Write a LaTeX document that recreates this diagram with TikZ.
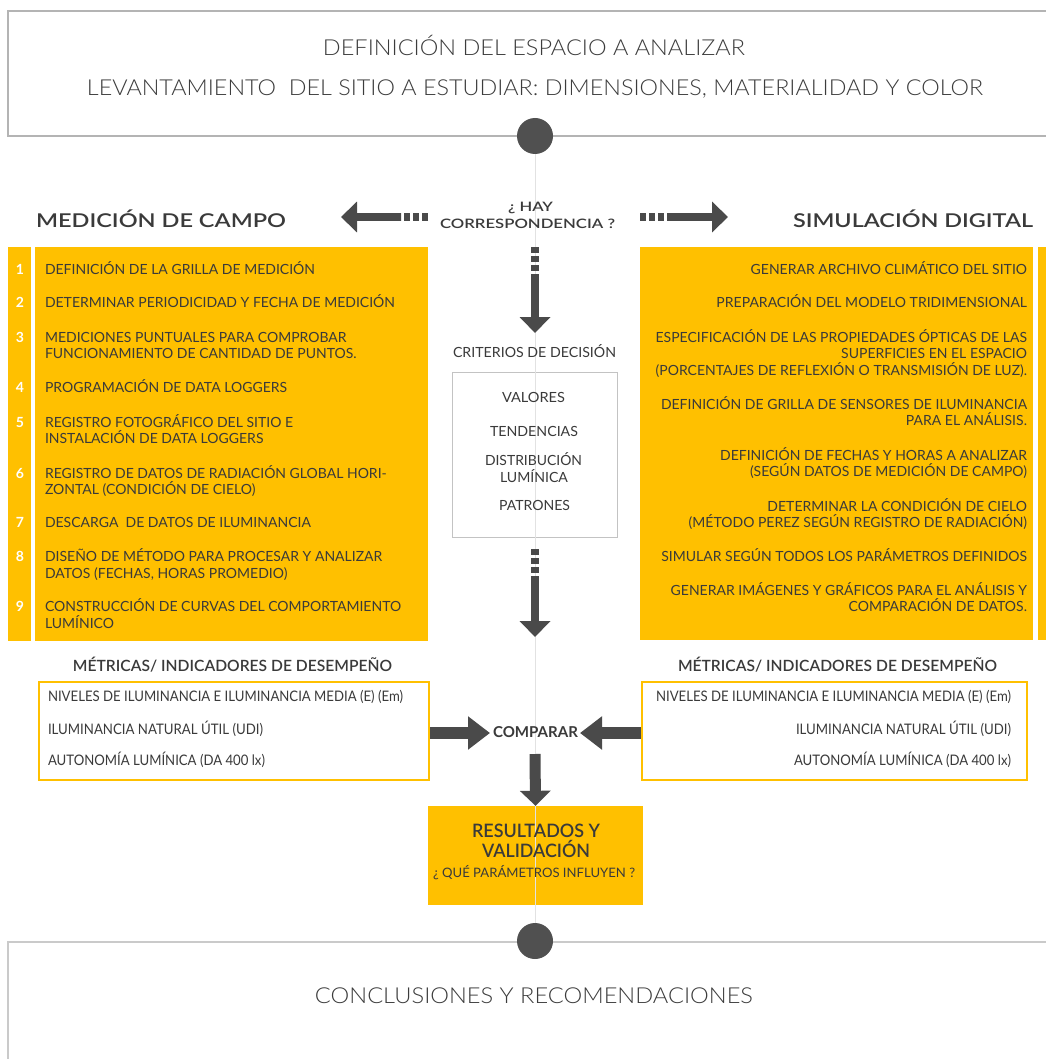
\documentclass[tikz,border=0pt]{standalone}
\usepackage{fontspec}
\usepackage{graphicx}
\usetikzlibrary{arrows.meta}
\setmainfont{Lato}
\IfFontExistsTF{Lato Light}{\newfontfamily\lightf{Lato Light}}{\newfontfamily\lightf{Lato}}
\IfFontExistsTF{Lato Semibold}{\newfontfamily\semif{Lato Semibold}}{\newcommand\semif{\bfseries}}
\newcommand\fitw[2]{\resizebox{#1pt}{\height}{#2}}
\definecolor{yel}{HTML}{FFC000}
\definecolor{ink}{HTML}{3A3A3A}
\definecolor{arr}{HTML}{4A4A4A}
\definecolor{dotc}{HTML}{505050}
\definecolor{frame}{HTML}{B4B4B4}
\definecolor{hdtxt}{HTML}{3C3C3C}
\definecolor{cline}{HTML}{E2E2E2}
\tikzset{
  txt/.style={inner sep=0pt, outer sep=0pt, text=ink},
  itemL/.style={txt, anchor=base west, font=\fontsize{14}{16}\selectfont},
  itemR/.style={txt, anchor=base east, font=\fontsize{14}{16}\selectfont},
  num/.style={txt, anchor=base, text=white, font=\bfseries\fontsize{14}{16}\selectfont},
  hdr/.style={txt, anchor=base, text=hdtxt, font=\lightf\fontsize{22}{24}\selectfont},
  ttl/.style={txt, font=\semif\fontsize{19}{21}\selectfont},
  qst/.style={txt, anchor=base, font=\semif\fontsize{13}{16}\selectfont},
  crit/.style={txt, anchor=base, font=\fontsize{14}{16}\selectfont},
  met/.style={txt, font=\fontsize{14.5}{16}\selectfont},
  mettl/.style={txt, anchor=base, font=\semif\fontsize{15.5}{17}\selectfont},
  shaft/.style={draw=arr, line width=8pt},
  dashshaft/.style={draw=arr, line width=8pt, dash pattern=on 6pt off 3pt},
  bigtip/.style={-{Triangle[length=16pt,width=30pt]}},
  cshaft/.style={draw=arr, line width=12pt},
  ctip/.style={-{Triangle[length=22pt,width=32pt]}},
  dshaft/.style={draw=arr, line width=11pt},
  dottie/.style={circle, fill=dotc, minimum size=36pt, inner sep=0pt},
  yelbox/.style={fill=yel, inner sep=0pt},
  metbox/.style={draw=yel, line width=2.5pt, inner sep=0pt},
}
\begin{document}
\begin{tikzpicture}[x=1pt,y=-1pt]
\useasboundingbox (0,0) rectangle (1045,1059);
\fill[white] (0,0) rectangle (1045,1059);
% top and bottom frames
\draw[frame, line width=1.5pt] (8,11) rectangle (1060,136);
\draw[frame!70, line width=2pt] (1060,942) -- (8,942) -- (8,1070);
% yellow panels
\fill[yel] (8,247) rectangle (31,641);
\node[yelbox, minimum width=393pt, minimum height=394pt] (pL) at (231.5,444) {};
\node[yelbox, minimum width=393pt, minimum height=393pt] (pR) at (836.5,443.5) {};
\fill[yel] (1038,247) rectangle (1060,640);
% criteria box
\node[draw=frame!80, line width=1pt, minimum width=165pt, minimum height=165pt, inner sep=0pt] (cb) at (534.5,454.5) {};
% metrics boxes
\node[metbox, minimum width=390pt, minimum height=98pt] (mL) at (234,731) {};
\node[metbox, minimum width=385pt, minimum height=98pt] (mR) at (834.5,731) {};
% results box
\node[yelbox, minimum width=215pt, minimum height=99pt] (res) at (535.5,855.5) {};
% circles
\node[dottie] (c1) at (535,136) {};
\node[dottie] (c2) at (535,941) {};
\draw[cline, line width=0.8pt] (c1.south) -- (c2.north);
% header
\node[hdr] (h1) at (534,56) {\fitw{422}{DEFINICIÓN DEL ESPACIO A ANALIZAR}};
\node[hdr] (h2) at (535,96) {\fitw{896}{LEVANTAMIENTO\ \ DEL SITIO A ESTUDIAR: DIMENSIONES, MATERIALIDAD Y COLOR}};
% question
\node[qst] (q1) at (530.5,212) {\fitw{45}{¿ HAY}};
\node[qst] (q2) at (527.5,229) {\fitw{175}{CORRESPONDENCIA ?}};
% titles
\node[ttl, anchor=base west] (mc) at (36,228) {\fitw{250}{MEDICIÓN DE CAMPO}};
\node[ttl, anchor=base east] (sd) at (1033,228) {\fitw{240}{SIMULACIÓN DIGITAL}};
% horizontal arrows
\coordinate (la) at (428,217); \coordinate (lb) at (401,217); \coordinate (lt) at (341,217);
\draw[dashshaft] (la) -- (lb);
\draw[shaft, bigtip] (lb) -- (lt);
\coordinate (ra) at (640,217); \coordinate (rb) at (667,217); \coordinate (rt) at (728,217);
\draw[dashshaft] (ra) -- (rb);
\draw[shaft, bigtip] (rb) -- (rt);
% vertical arrow 1
\coordinate (d1a) at (535,247); \coordinate (d1b) at (535,274); \coordinate (d1t) at (535,333);
\draw[dashshaft] (d1a) -- (d1b);
\draw[shaft, bigtip] (d1b) -- (d1t);
% criteria
\node[crit] (ct) at (534.5,357) {\fitw{163}{CRITERIOS DE DECISIÓN}};
\node[crit] (k1) at (533.5,402) {\fitw{63}{VALORES}};
\node[crit] (k2) at (534,436) {\fitw{88}{TENDENCIAS}};
\node[crit] (k3) at (533.5,465) {\fitw{97}{DISTRIBUCIÓN}};
\node[crit] (k4) at (534,482) {\fitw{68}{LUMÍNICA}};
\node[crit] (k5) at (534.5,510) {\fitw{71}{PATRONES}};
% vertical arrow 2
\coordinate (d2a) at (535,549); \coordinate (d2b) at (535,576); \coordinate (d2t) at (535,637);
\draw[dashshaft] (d2a) -- (d2b);
\draw[shaft, bigtip] (d2b) -- (d2t);
% left items
\node[num] (n1) at (20,274) {1};
\node[num] (n2) at (20,307) {2};
\node[num] (n3) at (20,342) {3};
\node[num] (n4) at (20,392) {4};
\node[num] (n5) at (20,427) {5};
\node[num] (n6) at (20,478) {6};
\node[num] (n7) at (20,527) {7};
\node[num] (n8) at (20,561) {8};
\node[num] (n9) at (20,611) {9};
\node[itemL] (l1) at (45,274) {DEFINICIÓN DE LA GRILLA DE MEDICIÓN};
\node[itemL] (l2) at (45,307) {DETERMINAR PERIODICIDAD Y FECHA DE MEDICIÓN};
\node[itemL] (l3a) at (45,342) {MEDICIONES PUNTUALES PARA COMPROBAR};
\node[itemL] (l3b) at (45,358) {FUNCIONAMIENTO DE CANTIDAD DE PUNTOS.};
\node[itemL] (l4) at (45,392) {PROGRAMACIÓN DE DATA LOGGERS};
\node[itemL] (l5a) at (45,427) {REGISTRO FOTOGRÁFICO DEL SITIO E};
\node[itemL] (l5b) at (45,443) {INSTALACIÓN DE DATA LOGGERS};
\node[itemL] (l6a) at (45,478) {REGISTRO DE DATOS DE RADIACIÓN GLOBAL HORI-};
\node[itemL] (l6b) at (45,494) {ZONTAL (CONDICIÓN DE CIELO)};
\node[itemL] (l7) at (45,527) {DESCARGA\ \ DE DATOS DE ILUMINANCIA};
\node[itemL] (l8a) at (45,561) {DISEÑO DE MÉTODO PARA PROCESAR Y ANALIZAR};
\node[itemL] (l8b) at (45,578) {DATOS (FECHAS, HORAS PROMEDIO)};
\node[itemL] (l9a) at (45,611) {CONSTRUCCIÓN DE CURVAS DEL COMPORTAMIENTO};
\node[itemL] (l9b) at (45,628) {LUMÍNICO};
% right items
\node[itemR] (r1) at (1027,274) {GENERAR ARCHIVO CLIMÁTICO DEL SITIO};
\node[itemR] (r2) at (1027,307) {PREPARACIÓN DEL MODELO TRIDIMENSIONAL};
\node[itemR] (r3a) at (1027,342) {ESPECIFICACIÓN DE LAS PROPIEDADES ÓPTICAS DE LAS};
\node[itemR] (r3b) at (1027,358) {SUPERFICIES EN EL ESPACIO};
\node[itemR] (r3c) at (1027,375) {(PORCENTAJES DE REFLEXIÓN O TRANSMISIÓN DE LUZ).};
\node[itemR] (r4a) at (1027,409) {DEFINICIÓN DE GRILLA DE SENSORES DE ILUMINANCIA};
\node[itemR] (r4b) at (1027,425) {PARA EL ANÁLISIS.};
\node[itemR] (r5a) at (1027,460) {DEFINICIÓN DE FECHAS Y HORAS A ANALIZAR};
\node[itemR] (r5b) at (1027,476) {(SEGÚN DATOS DE MEDICIÓN DE CAMPO)};
\node[itemR] (r6a) at (1027,511) {DETERMINAR LA CONDICIÓN DE CIELO};
\node[itemR] (r6b) at (1027,527) {(MÉTODO PEREZ SEGÚN REGISTRO DE RADIACIÓN)};
\node[itemR] (r7) at (1027,561) {SIMULAR SEGÚN TODOS LOS PARÁMETROS DEFINIDOS};
\node[itemR] (r8a) at (1027,595) {GENERAR IMÁGENES Y GRÁFICOS PARA EL ANÁLISIS Y};
\node[itemR] (r8b) at (1027,611) {COMPARACIÓN DE DATOS.};
% metrics
\node[mettl] (mtL) at (232.5,671) {\fitw{319}{MÉTRICAS/ INDICADORES DE DESEMPEÑO}};
\node[mettl] (mtR) at (837.5,671) {\fitw{319}{MÉTRICAS/ INDICADORES DE DESEMPEÑO}};
\node[met, anchor=base west] (ma1) at (48,701) {\fitw{355}{NIVELES DE ILUMINANCIA E ILUMINANCIA MEDIA (E) (Em)}};
\node[met, anchor=base west] (ma2) at (48,734) {\fitw{215}{ILUMINANCIA NATURAL ÚTIL (UDI)}};
\node[met, anchor=base west] (ma3) at (48,765) {\fitw{217}{AUTONOMÍA LUMÍNICA (DA 400 lx)}};
\node[met, anchor=base east] (mb1) at (1011,701) {\fitw{355}{NIVELES DE ILUMINANCIA E ILUMINANCIA MEDIA (E) (Em)}};
\node[met, anchor=base east] (mb2) at (1011,734) {\fitw{215}{ILUMINANCIA NATURAL ÚTIL (UDI)}};
\node[met, anchor=base east] (mb3) at (1011,765) {\fitw{217}{AUTONOMÍA LUMÍNICA (DA 400 lx)}};
% compare
\node[txt, anchor=base, font=\bfseries\fontsize{15}{17}\selectfont] (cmp) at (535.5,737) {\fitw{85}{COMPARAR}};
\coordinate (cl) at (490,733); \coordinate (cr) at (580,733);
\draw[cshaft, ctip] (mL.east |- cl) -- (cl);
\draw[cshaft, ctip] (mR.west |- cr) -- (cr);
\coordinate (cd) at (535,754);
\draw[dshaft, -{Triangle[length=15pt,width=30pt]}] (cd) -- (res.north);
% results
\node[txt, anchor=base, font=\semif\fontsize{18.5}{20}\selectfont] (rs1) at (536,837) {\fitw{128}{RESULTADOS Y}};
\node[txt, anchor=base, font=\semif\fontsize{18.5}{20}\selectfont] (rs2) at (536,857) {\fitw{108}{VALIDACIÓN}};
\node[txt, anchor=base, font=\fontsize{13}{15}\selectfont] (rs3) at (534,877) {\fitw{202}{¿ QUÉ PARÁMETROS INFLUYEN ?}};
% conclusions
\node[hdr] (cc) at (534,1003) {\fitw{438}{CONCLUSIONES Y RECOMENDACIONES}};
\end{tikzpicture}
\end{document}
